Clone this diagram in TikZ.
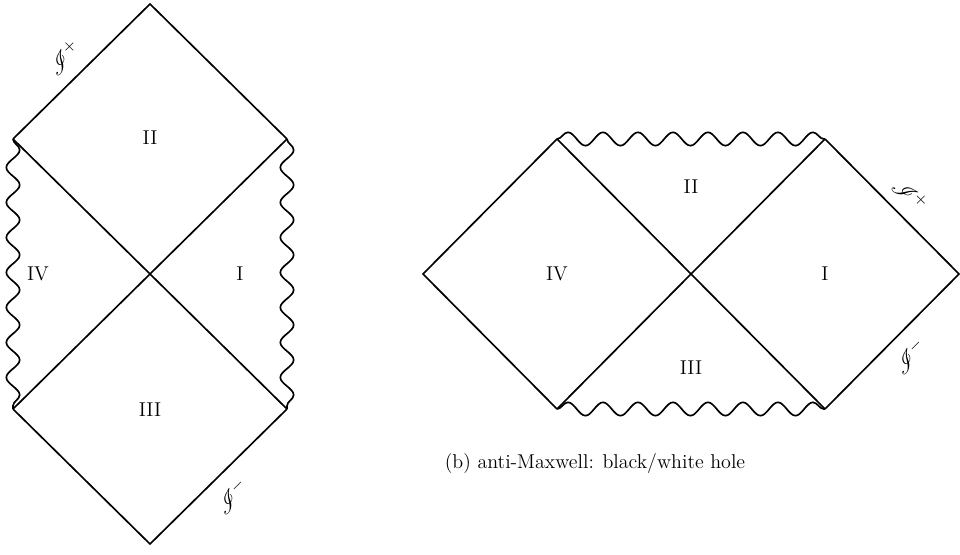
\documentclass[tikz,border=0pt]{standalone}
\usepackage{mathrsfs}
\usetikzlibrary{decorations.pathmorphing}
\tikzset{
  edge/.style={line width=1pt},
  sing/.style={line width=1pt, decorate, decoration={snake, segment length=21pt, amplitude=4pt}},
  scri/.style={inner sep=0pt, font=\fontsize{14}{16}\selectfont}
}
\begin{document}
\begin{tikzpicture}[x=0.6pt, y=-0.6pt, every node/.style={font=\fontsize{12}{14}\selectfont}]
    \useasboundingbox (0,0) rectangle (960,554);

    % Left diagram
    \coordinate (top) at (150,4);
    \coordinate (ul) at (13,139);
    \coordinate (ur) at (287,139);
    \coordinate (mid) at (150,274);
    \coordinate (ll) at (13,409);
    \coordinate (lr) at (287,409);
    \coordinate (bot) at (150,544);
    \draw[edge] (ul) -- (top) -- (ur);
    \draw[edge] (ul) -- (lr);
    \draw[edge] (ur) -- (ll);
    \draw[edge] (ll) -- (bot) -- (lr);
    \draw[sing] (ul) -- (ll);
    \draw[sing] (ur) -- (lr);
    \node (IIa) at (150,138) {II};
    \node (IVa) at (38,274) {IV};
    \node (Ia) at (240,274) {I};
    \node (IIIa) at (150,410) {III};
    \node[scri, rotate=45] (scriPa) at (64,58) {$\mathscr{I}^+$};
    \node[scri, rotate=45] (scriMa) at (232,497) {$\mathscr{I}^-$};

    % Right diagram
    \coordinate (west) at (423,274);
    \coordinate (nw) at (557,139);
    \coordinate (ne) at (825,139);
    \coordinate (c) at (691,274);
    \coordinate (sw) at (557,409);
    \coordinate (se) at (825,409);
    \coordinate (east) at (959,274);
    \draw[edge] (nw) -- (west) -- (sw);
    \draw[edge] (nw) -- (se);
    \draw[edge] (ne) -- (sw);
    \draw[edge] (ne) -- (east) -- (se);
    \draw[sing] (nw) -- (ne);
    \draw[sing] (sw) -- (se);
    \node (IIb) at (691,187) {II};
    \node (IVb) at (557,274) {IV};
    \node (Ib) at (825,274) {I};
    \node (IIIb) at (691,368) {III};
    \node[scri, rotate=-45] (scriPb) at (910,195) {$\mathscr{I}^+$};
    \node[scri, rotate=45] (scriMb) at (910,357) {$\mathscr{I}^-$};
    \node (cap) at (595,464) {(b) anti-Maxwell: black/white hole};
\end{tikzpicture}
\end{document}
